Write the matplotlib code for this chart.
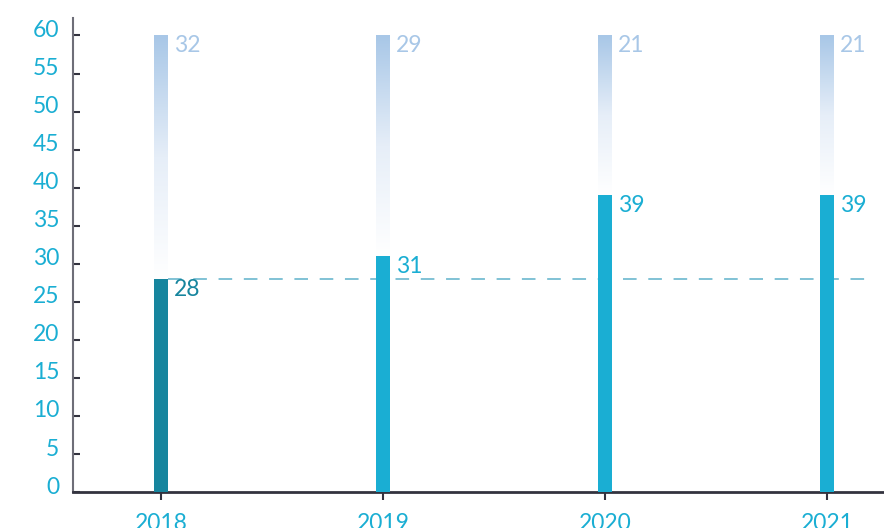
import numpy as np
import matplotlib.pyplot as plt
from matplotlib.colors import LinearSegmentedColormap
from matplotlib.transforms import ScaledTranslation

plt.rcParams['font.family'] = ['Lato', 'DejaVu Sans']

# data
years = ['2018', '2019', '2020', '2021']
lower = [28, 31, 39, 39]   # solid part
upper = [32, 29, 21, 21]   # faded part on top
ref_level = lower[0]

cyan = '#1AAED3'
dark_teal = '#16859E'
pale = '#A8C7E7'
axis_col = '#33333F'

fig = plt.figure(figsize=(8.84, 5.28), dpi=100)
ax = fig.add_axes([0.0826, 0.068, 0.9174, 0.898])

x = np.arange(len(years))
w = 0.063
bar_cols = [dark_teal] + [cyan] * (len(years) - 1)
ax.bar(x, lower, width=w, color=bar_cols, zorder=3)

# faded upper segments
cmap = LinearSegmentedColormap.from_list('fade', ['#FFFFFF', '#E6EEF8', pale])
grad = np.linspace(0, 1, 256).reshape(-1, 1)
for xi, lo, up in zip(x, lower, upper):
    ax.imshow(grad, cmap=cmap, origin='lower', aspect='auto',
              extent=[xi - w / 2, xi + w / 2, lo, lo + up], zorder=2)

# dashed reference line
ax.plot([x[0] + w / 2, 3.2], [ref_level, ref_level], ls=(0, (7, 6)),
        color='#80C2D5', lw=1.4, zorder=1)

# value labels
off = ScaledTranslation(6 / 100, 0, fig.dpi_scale_trans)
for i, (xi, lo, up) in enumerate(zip(x, lower, upper)):
    ax.text(xi + w / 2, lo + up, str(up), color=pale, fontsize=16.5,
            va='top', ha='left', transform=ax.transData + off, zorder=4)
    ax.text(xi + w / 2, lo, str(lo), color=bar_cols[i], fontsize=16.5,
            va='top', ha='left', transform=ax.transData + off, zorder=4)

ax.set_xlim(-0.396, 3.257)
ax.set_ylim(0, 62.3)
ax.set_xticks(x)
ax.set_xticklabels(years)
ax.set_yticks(np.arange(0, 61, 5))

for s in ['top', 'right']:
    ax.spines[s].set_visible(False)
ax.spines['left'].set_color('#6E6E78')
ax.spines['left'].set_linewidth(1.5)
ax.spines['bottom'].set_color(axis_col)
ax.spines['bottom'].set_linewidth(2)

ax.tick_params(axis='y', direction='in', length=5, width=1.5, color=axis_col,
               labelcolor=cyan, labelsize=16.5, pad=10)
ax.tick_params(axis='x', direction='out', length=6, width=1.5, color=axis_col,
               labelcolor=cyan, labelsize=16.5, pad=9)

# y labels sit a bit above their ticks
shift = ScaledTranslation(0, 7 / 100, fig.dpi_scale_trans)
for lab in ax.get_yticklabels():
    lab.set_transform(lab.get_transform() + shift)

fig.savefig('out.png', dpi=100)
